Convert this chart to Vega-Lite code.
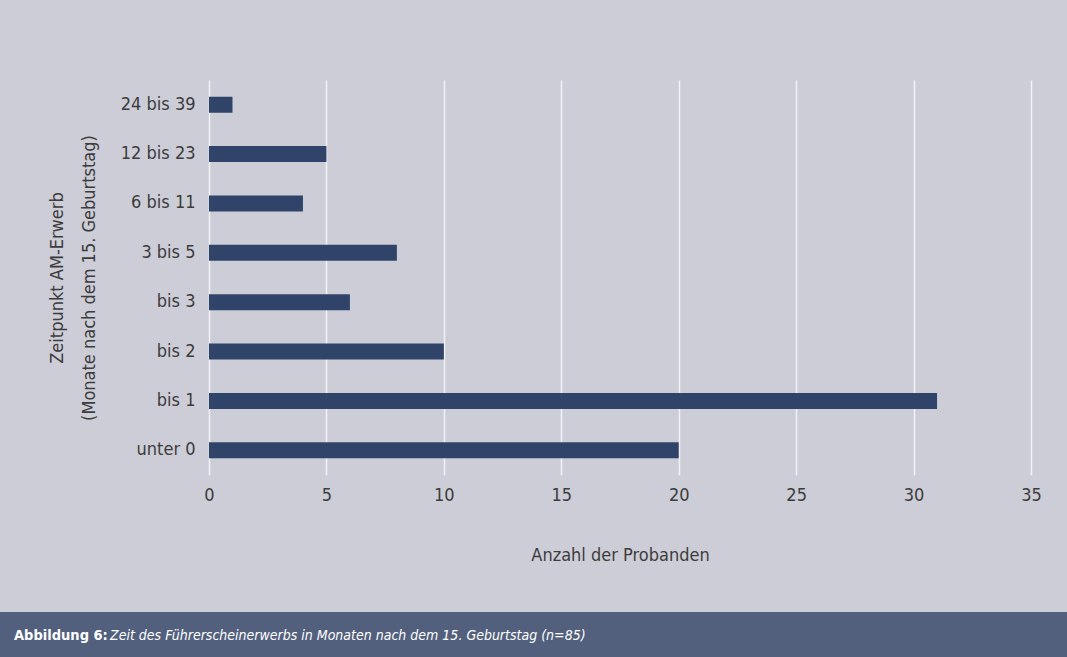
{
  "$schema": "https://vega.github.io/schema/vega-lite/v6.json",
  "background": "#cdcdd7",
  "padding": {"top": 80, "left": 0, "right": 0, "bottom": 0},
  "config": {
    "view": {"stroke": null},
    "font": "DejaVu Sans Condensed, sans-serif"
  },
  "spacing": 48,
  "vconcat": [
    {
      "width": 1067,
      "height": 395,
      "data": {
        "values": [
          {"Zeitpunkt": "24 bis 39", "Anzahl": 1},
          {"Zeitpunkt": "12 bis 23", "Anzahl": 5},
          {"Zeitpunkt": "6 bis 11", "Anzahl": 4},
          {"Zeitpunkt": "3 bis 5", "Anzahl": 8},
          {"Zeitpunkt": "bis 3", "Anzahl": 6},
          {"Zeitpunkt": "bis 2", "Anzahl": 10},
          {"Zeitpunkt": "bis 1", "Anzahl": 31},
          {"Zeitpunkt": "unter 0", "Anzahl": 20}
        ]
      },
      "mark": {"type": "bar", "color": "#2f4468"},
      "encoding": {
        "y": {
          "field": "Zeitpunkt",
          "type": "nominal",
          "sort": ["24 bis 39", "12 bis 23", "6 bis 11", "3 bis 5", "bis 3", "bis 2", "bis 1", "unter 0"],
          "scale": {"paddingInner": 0.676, "paddingOuter": 0.338},
          "axis": {
            "offset": -209,
            "title": ["Zeitpunkt AM-Erwerb", "(Monate nach dem 15. Geburtstag)"],
            "titleFontSize": 18,
            "titleFontWeight": "normal",
            "titleColor": "#3c3c3c",
            "titleLineHeight": 32,
            "titleBaseline": "bottom",
            "titleAlign": "center",
            "titleX": -143,
            "domain": false,
            "ticks": false,
            "labelPadding": 14,
            "labelFontSize": 18,
            "labelColor": "#3c3c3c"
          }
        },
        "x": {
          "field": "Anzahl",
          "type": "quantitative",
          "scale": {"domain": [-8.899, 36.533], "nice": false, "zero": false},
          "axis": {
            "values": [0, 5, 10, 15, 20, 25, 30, 35],
            "title": "Anzahl der Probanden",
            "titleFontSize": 18,
            "titleFontWeight": "normal",
            "titleColor": "#3c3c3c",
            "titlePadding": 42,
            "titleX": 620,
            "domain": false,
            "ticks": false,
            "grid": true,
            "gridColor": "#f2f2f6",
            "gridWidth": 1.5,
            "labelPadding": 11,
            "labelFontSize": 18,
            "labelColor": "#3c3c3c"
          }
        }
      }
    },
    {
      "width": 1067,
      "height": 45,
      "view": {"fill": "#52607d", "stroke": null},
      "data": {
        "values": [
          {"teil": "Abbildung 6:", "text": "Zeit des Führerscheinerwerbs in Monaten nach dem 15. Geburtstag (n=85)"}
        ]
      },
      "layer": [
        {
          "mark": {"type": "text", "align": "left", "baseline": "middle", "dx": 14, "dy": 1.5, "fontSize": 14.5, "fontWeight": "bold", "color": "#ffffff"},
          "encoding": {"x": {"value": 0}, "text": {"field": "teil"}}
        },
        {
          "mark": {"type": "text", "align": "left", "baseline": "middle", "dx": 110, "dy": 1.5, "fontSize": 14, "fontStyle": "italic", "color": "#ffffff"},
          "encoding": {"x": {"value": 0}, "text": {"field": "text"}}
        }
      ]
    }
  ]
}
